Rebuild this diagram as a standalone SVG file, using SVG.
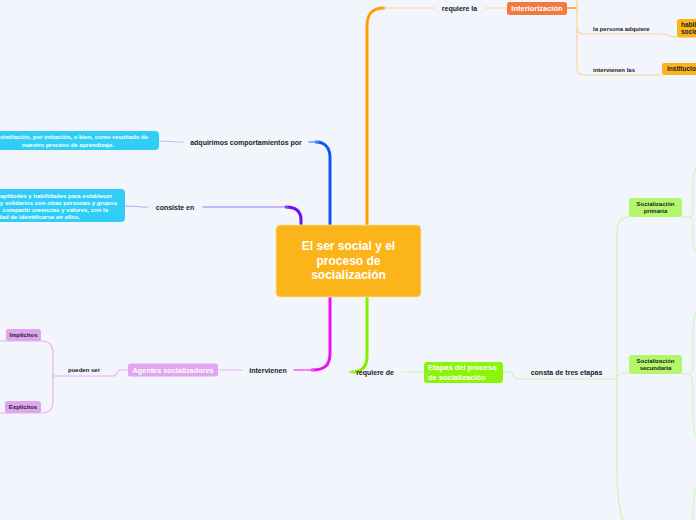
<svg xmlns="http://www.w3.org/2000/svg" width="696" height="520" viewBox="0 0 696 520">
<style>
text{font-family:"Liberation Sans",Arial,sans-serif;font-weight:bold}
.lbl{font-size:7px;fill:#222}
.sm{font-size:6px;fill:#222}
.wt{fill:#fff}
.dk{fill:#222}
.c{fill:none;stroke-linecap:round;stroke-linejoin:round}
</style>
<rect width="696" height="520" fill="#f3f5fd"/>
<g id="connectors" class="c">
  <!-- blue -->
  <path d="M330,225 V158 C330,148 325,142 316,142" stroke="#0a55ff" stroke-width="3" fill="none"/>
  <path d="M318,142 H309" stroke="#6d95ff" stroke-width="1.5" fill="none"/>
  <path d="M159,141 C170,141 172,142 183,142" stroke="#a9c4f2" stroke-width="1.2" fill="none"/>
  <!-- purple -->
  <path d="M301,225 V220 C301,211 296,207 286,207" stroke="#6a10f5" stroke-width="3" fill="none"/>
  <path d="M288,207 H203" stroke="#9b7af5" stroke-width="1.2" fill="none"/>
  <path d="M125,206 C135,206 138,207 148,207" stroke="#b9a6f0" stroke-width="1.2" fill="none"/>
  <!-- orange -->
  <path d="M367,225 V26 C367,14 372,8 384,8" stroke="#ff9d00" stroke-width="3" fill="none"/>
  <path d="M384,8 H435" stroke="#fcd49c" stroke-width="1.2" fill="none"/>
  <path d="M485,8 H507" stroke="#fcd49c" stroke-width="1.2" fill="none"/>
  <path d="M567,8 H577" stroke="#ff9d00" stroke-width="1.5" fill="none"/>
  <path d="M577,0 V68 C577,73 579,75 584,75 H662" stroke="#fcd49c" stroke-width="1.2" fill="none"/>
  <path d="M577,27 C577,32 579,34 584,34 H662 C668,34 668,37 677,37" stroke="#fcd49c" stroke-width="1.2" fill="none"/>
  <!-- magenta -->
  <path d="M330,297 V353 C330,365 325,370 312,370" stroke="#ee10ee" stroke-width="3" fill="none"/>
  <path d="M314,370 H294" stroke="#f060f0" stroke-width="1.5" fill="none"/>
  <path d="M218,370 H242" stroke="#f0b4f2" stroke-width="1.2" fill="none"/>
  <path d="M128,370 H120 C117,370 117,376 114,376 H53" stroke="#ecb0f4" stroke-width="1.2" fill="none"/>
  <path d="M0,341 H41 C50,341 53,345 53,355 V400 C53,409 50,413 41,413 H0" stroke="#ecb0f4" stroke-width="1.2" fill="none"/>
  <!-- green -->
  <path d="M367,297 V356 C367,367 362,372 352,372" stroke="#88ee00" stroke-width="3" fill="none"/>
  <path d="M354,372 H349" stroke="#a8f050" stroke-width="1.5" fill="none"/>
  <path d="M402,372 H424" stroke="#ccf5aa" stroke-width="1.2" fill="none"/>
  <path d="M503,372 H510 C514,372 513,379 518,379 H617" stroke="#ccf5aa" stroke-width="1.2" fill="none"/>
  <path d="M629,217 C620,217 617,222 617,235 V470 C617,495 619,510 623,520" stroke="#ccf5aa" stroke-width="1.2" fill="none"/>
  <path d="M617,379 C617,375 620,373 626,373 H629" stroke="#ccf5aa" stroke-width="1.2" fill="none"/>
  <path d="M682,217 H690 C693,217 693,210 693,200 V185 C693,178 694,173 696,168" stroke="#ccf5aa" stroke-width="1" fill="none"/>
  <path d="M690,217 C693,217 693,224 693,232 V240 C693,245 694,248 696,252" stroke="#ccf5aa" stroke-width="1" fill="none"/>
  <path d="M682,374 H690 C693,374 693,365 693,350 V335 C693,325 694,318 696,312" stroke="#ccf5aa" stroke-width="1" fill="none"/>
  <path d="M690,374 C693,374 693,385 693,400 V415 C693,425 694,432 696,438" stroke="#ccf5aa" stroke-width="1" fill="none"/>
  <path d="M696,486 C694,495 693,505 693,520" stroke="#ccf5aa" stroke-width="1" fill="none"/>
</g>
<g id="central">
  <rect x="276" y="225" width="145" height="72" rx="4" fill="#fbb51b" stroke="#fde3a4" stroke-width="0.8"/>
  <text x="348.5" y="250" font-size="12" text-anchor="middle" class="wt">El ser social y el</text>
  <text x="348.5" y="264.5" font-size="12" text-anchor="middle" class="wt">proceso de</text>
  <text x="348.5" y="279" font-size="12" text-anchor="middle" class="wt">socialización</text>
</g>
<g id="lbl-adquirimos"><text x="246" y="144.5" class="lbl" text-anchor="middle">adquirimos comportamientos por</text></g>
<g id="node-asimilacion">
  <rect x="-10" y="131" width="169" height="19" rx="4" fill="#30cdf7"/>
  <text x="148" y="139" font-size="6" text-anchor="end" class="wt">similación, por imitación, o bien, como resultado de</text>
  <text x="68" y="146.5" font-size="6" text-anchor="middle" class="wt">nuestro proceso de aprendizaje.</text>
</g>
<g id="lbl-consiste"><text x="175" y="209.5" class="lbl" text-anchor="middle">consiste en</text></g>
<g id="node-aptitudes">
  <rect x="-10" y="189" width="135" height="33" rx="4" fill="#30cdf7"/>
  <text x="112" y="197.5" font-size="6" text-anchor="end" class="wt">aptitudes y habilidades para establecer</text>
  <text x="117" y="204.5" font-size="6" text-anchor="end" class="wt">y solidarios con otras personas y grupos</text>
  <text x="108" y="211.5" font-size="6" text-anchor="end" class="wt">compartir creencias y valores, con la</text>
  <text x="80" y="218.5" font-size="6" text-anchor="end" class="wt">dad de identificarse en ellos.</text>
</g>
<g id="lbl-requierela"><text x="459.5" y="10.5" class="lbl" text-anchor="middle">requiere la</text></g>
<g id="node-interiorizacion">
  <rect x="507" y="2" width="60" height="13" rx="2.5" fill="#f07a40"/>
  <text x="537" y="11.3" font-size="7.5" text-anchor="middle" class="wt">Interiorización</text>
</g>
<g id="lbl-persona"><text x="593" y="31" class="sm">la persona adquiere</text></g>
<g id="node-habilidades">
  <rect x="677" y="19" width="30" height="18.5" rx="3" fill="#fbb51b"/>
  <text x="681" y="26.5" font-size="6.5" class="dk">habili</text>
  <text x="681" y="34" font-size="6.5" class="dk">socia</text>
</g>
<g id="lbl-intervienenlas"><text x="593" y="71.5" class="sm">intervienen las</text></g>
<g id="node-instituciones">
  <rect x="662" y="63" width="40" height="12" rx="2.5" fill="#fbb51b"/>
  <text x="667" y="71.3" font-size="6.5" class="dk">institucion</text>
</g>
<g id="lbl-intervienen"><text x="268" y="372.5" class="lbl" text-anchor="middle">intervienen</text></g>
<g id="node-agentes">
  <rect x="128" y="363.5" width="90" height="13" rx="2.5" fill="#e1a6ef"/>
  <text x="173" y="372.7" font-size="7.3" text-anchor="middle" class="wt">Agentes socializadores</text>
</g>
<g id="lbl-pueden"><text x="84" y="372" class="sm" text-anchor="middle">pueden ser</text></g>
<g id="node-implicitos">
  <rect x="6" y="329" width="35" height="12" rx="2.5" fill="#dea6ec"/>
  <text x="23.5" y="337.3" font-size="6" text-anchor="middle" class="dk">Implícitos</text>
</g>
<g id="node-explicitos">
  <rect x="5" y="401" width="36" height="12" rx="2.5" fill="#dea6ec"/>
  <text x="23" y="409.3" font-size="6" text-anchor="middle" class="dk">Explícitos</text>
</g>
<g id="lbl-requierede"><text x="375" y="374.5" class="lbl" text-anchor="middle">requiere de</text></g>
<g id="node-etapas">
  <rect x="424" y="362" width="79" height="21" rx="3" fill="#8af50a"/>
  <text x="428" y="370" font-size="7.5" class="wt">Etapas del proceso</text>
  <text x="428" y="380" font-size="7.5" class="wt">de socialización</text>
</g>
<g id="lbl-consta"><text x="566.5" y="375" class="lbl" text-anchor="middle">consta de tres etapas</text></g>
<g id="node-primaria">
  <rect x="629" y="198" width="53" height="19" rx="3" fill="#b4f66c"/>
  <text x="655.5" y="206" font-size="6" text-anchor="middle" class="dk">Socialización</text>
  <text x="655.5" y="213" font-size="6" text-anchor="middle" class="dk">primaria</text>
</g>
<g id="node-secundaria">
  <rect x="629" y="355" width="53" height="19" rx="3" fill="#b4f66c"/>
  <text x="655.5" y="363" font-size="6" text-anchor="middle" class="dk">Socialización</text>
  <text x="655.5" y="370" font-size="6" text-anchor="middle" class="dk">secundaria</text>
</g>
</svg>
